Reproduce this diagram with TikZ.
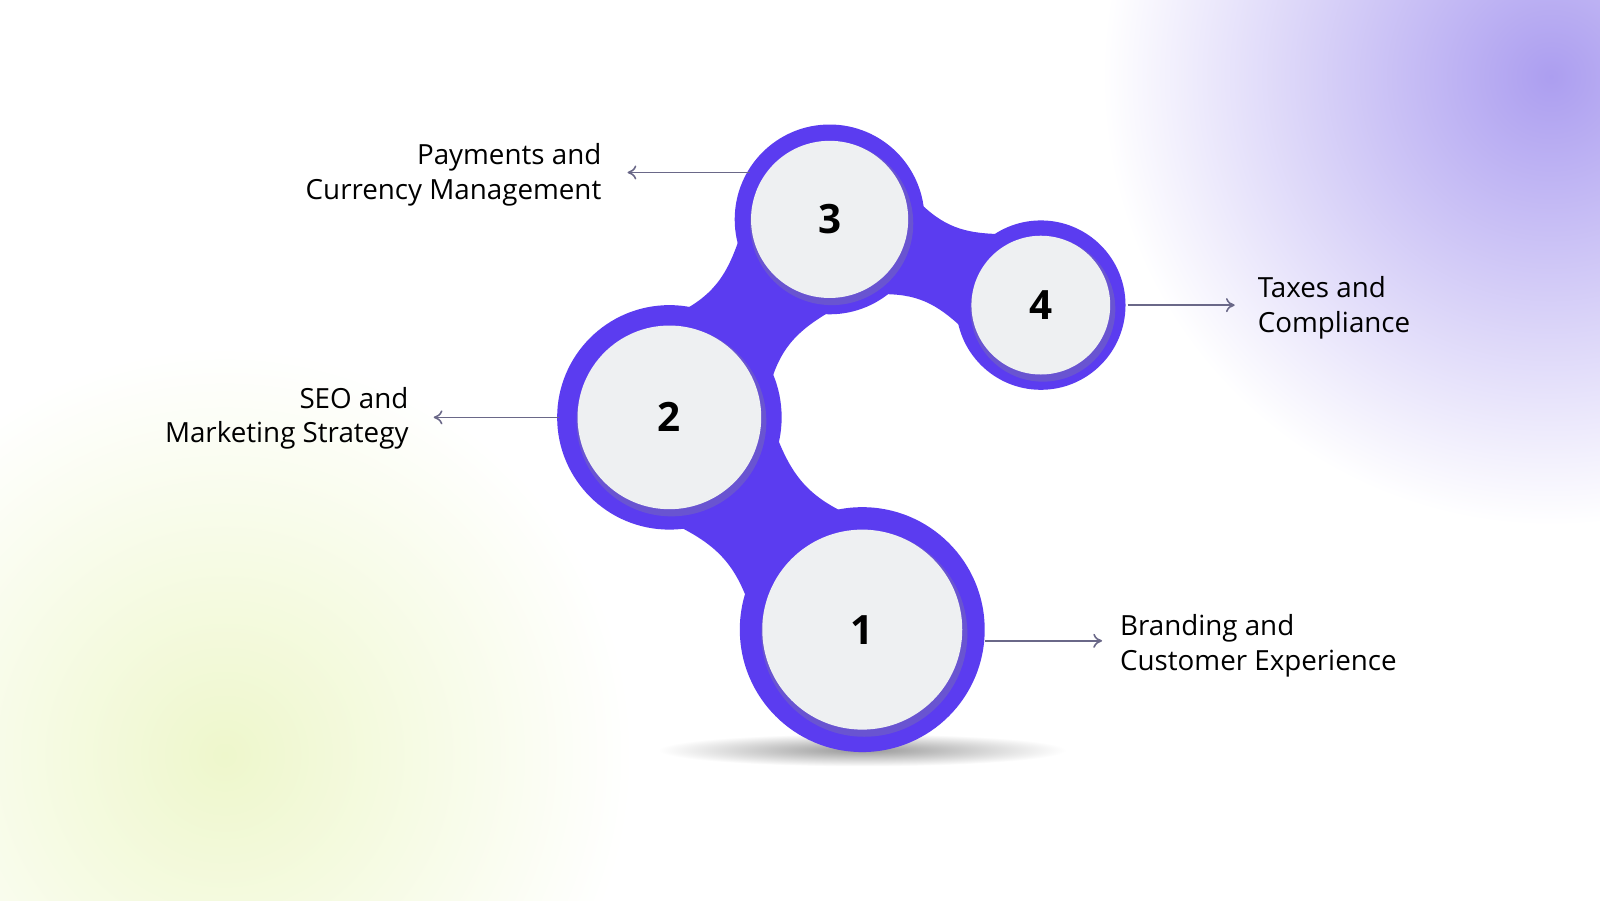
\documentclass[tikz,border=0pt]{standalone}
\usetikzlibrary{calc,arrows.meta}
\usepackage{fontspec}
\setmainfont{Open Sans}
\newcommand\pu{0.010204cm}
\definecolor{pur}{HTML}{5B3CF0}
\definecolor{inn}{HTML}{EEF0F2}
\definecolor{arr}{HTML}{6A6888}
\begin{document}
\begin{tikzpicture}[x=\pu,y=-\pu,
  lbl/.style={font=\fontsize{7.9}{9.9}\selectfont,text=black,inner sep=0pt},
  num/.style={font=\fontsize{11.5}{12}\selectfont\bfseries,text=black},
  con/.style={draw=arr,line width=0.45pt,-{To[length=2.5pt,width=4pt]}}]
\useasboundingbox (0,0) rectangle (1568,882);
\fill[white] (0,0) rectangle (1568,882);
\shade[inner color={rgb,255:red,172;green,158;blue,240},outer color=white] (1520,75) circle[radius=440*\pu];
\shade[inner color={rgb,255:red,238;green,247;blue,204},outer color=white] (220,740) circle[radius=400*\pu];
% shadow
\shade[inner color=black!40,outer color=white] (845,735) ellipse[x radius=200*\pu,y radius=16*\pu];
\coordinate (c1) at (845,617);
\coordinate (c2) at (656,409);
\coordinate (c3) at (813,215);
\coordinate (c4) at (1020,299);
\fill[pur] ($(c1)!115*\pu!90:(c2)$) .. controls ($($(c1)!0.5!(c2)$)!35*\pu!90:(c2)$) .. ($(c2)!105*\pu!-90:(c1)$)
   -- ($(c2)!105*\pu!90:(c1)$) .. controls ($($(c1)!0.5!(c2)$)!35*\pu!-90:(c2)$) .. ($(c1)!115*\pu!-90:(c2)$) -- cycle;
\fill[pur] ($(c2)!105*\pu!90:(c3)$) .. controls ($($(c2)!0.5!(c3)$)!30*\pu!90:(c3)$) .. ($(c3)!88*\pu!-90:(c2)$)
   -- ($(c3)!88*\pu!90:(c2)$) .. controls ($($(c2)!0.5!(c3)$)!30*\pu!-90:(c3)$) .. ($(c2)!105*\pu!-90:(c3)$) -- cycle;
\fill[pur] ($(c3)!88*\pu!90:(c4)$) .. controls ($($(c3)!0.5!(c4)$)!25*\pu!90:(c4)$) .. ($(c4)!78*\pu!-90:(c3)$)
   -- ($(c4)!78*\pu!90:(c3)$) .. controls ($($(c3)!0.5!(c4)$)!25*\pu!-90:(c4)$) .. ($(c3)!88*\pu!-90:(c4)$) -- cycle;
\fill[pur] (c1) circle[radius=120*\pu];
\fill[pur] (c2) circle[radius=110*\pu];
\fill[pur] (c3) circle[radius=93*\pu];
\fill[pur] (c4) circle[radius=83*\pu];
\foreach \c/\r in {c1/98,c2/90,c3/77,c4/68}{
  \fill[black!45,opacity=0.3] ($(\c)+(2,4)$) circle[radius=\r*\pu+3*\pu];
  \fill[inn] (\c) circle[radius=\r*\pu];
}
\node[num] (n1) at (c1) {1};
\node[num] (n2) at (c2) {2};
\node[num] (n3) at (c3) {3};
\node[num] (n4) at (c4) {4};
\coordinate (s3) at (735,169); \coordinate (e3) at (615,169);
\coordinate (s2) at (548,409); \coordinate (e2) at (425,409);
\coordinate (s4) at (1105,299); \coordinate (e4) at (1210,299);
\coordinate (s1) at (965,628); \coordinate (e1) at (1080,628);
\draw[con] (s3) -- (e3);
\draw[con] (s2) -- (e2);
\draw[con] (s4) -- (e4);
\draw[con] (s1) -- (e1);
\node[lbl,anchor=east,align=right] (t3) at (590,171) {Payments and\\Currency Management};
\node[lbl,anchor=east,align=right] (t2) at (401,410) {SEO and\\Marketing Strategy};
\node[lbl,anchor=west,align=left] (t4) at (1232,302) {Taxes and\\Compliance};
\node[lbl,anchor=west,align=left] (t1) at (1097,633) {Branding and\\Customer Experience};
\end{tikzpicture}
\end{document}
